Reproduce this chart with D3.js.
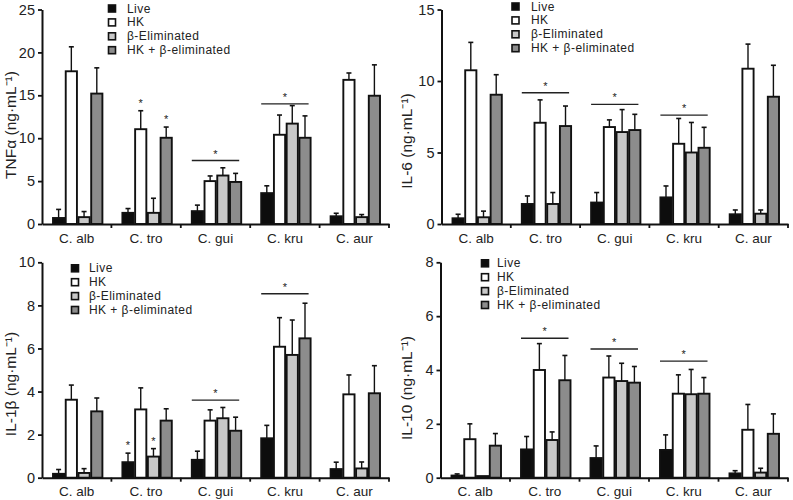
<!DOCTYPE html>
<html>
<head>
<meta charset="utf-8">
<script src="https://cdn.jsdelivr.net/npm/d3@7"></script>
<style>
  html, body { margin: 0; padding: 0; background: #fff; }
  svg { display: block; }
  text { font-family: "Liberation Sans", Arial, sans-serif; fill: #222; }
</style>
</head>
<body>
<svg id="chart" width="793" height="500"></svg>
<script>
// ---------- data ----------
const categories = ["C. alb", "C. tro", "C. gui", "C. kru", "C. aur"];
const seriesNames = ["Live", "HK", "β-Eliminated", "HK + β-eliminated"];

// TNFα (ng·mL⁻¹)
const tnfLive = [0.7, 1.3, 1.5, 3.6, 0.9];
const tnfLiveSd = [1.0, 0.5, 0.7, 0.85, 0.35];
const tnfHK = [17.8, 11.05, 5.0, 10.4, 16.8];
const tnfHKSd = [2.85, 2.15, 0.6, 2.3, 0.8];
const tnfBeta = [0.8, 1.3, 5.65, 11.7, 0.8];
const tnfBetaSd = [0.65, 1.7, 0.9, 2.1, 0.3];
const tnfHKBeta = [15.2, 10.05, 4.9, 10.05, 14.95];
const tnfHKBetaSd = [3.0, 1.25, 1.0, 2.55, 3.6];
const tnfTicks = [0, 5, 10, 15, 20, 25];
const tnfStarBars = [[1, 1], [1, 3]];
const tnfBracketCats = [2, 3];
const tnfBracketY = [7.4, 14.0];

// IL-6
const il6Live = [0.4, 1.4, 1.5, 1.86, 0.68];
const il6LiveSd = [0.28, 0.56, 0.7, 0.8, 0.3];
const il6HK = [10.75, 7.08, 6.78, 5.61, 10.86];
const il6HKSd = [1.95, 1.6, 0.5, 1.77, 1.72];
const il6Beta = [0.47, 1.4, 6.43, 5.0, 0.72];
const il6BetaSd = [0.43, 0.8, 1.57, 2.1, 0.26];
const il6HKBeta = [9.04, 6.85, 6.57, 5.33, 8.9];
const il6HKBetaSd = [1.4, 1.4, 1.1, 1.43, 2.2];
const il6Ticks = [0, 5, 10, 15];
const il6StarBars = [];
const il6BracketCats = [1, 2, 3];
const il6BracketY = [9.18, 8.36, 7.62];

// IL-1β
const il1Live = [0.18, 0.72, 0.83, 1.83, 0.4];
const il1LiveSd = [0.2, 0.42, 0.4, 0.6, 0.32];
const il1HK = [3.62, 3.17, 2.65, 6.08, 3.87];
const il1HKSd = [0.68, 1.0, 0.5, 1.35, 0.9];
const il1Beta = [0.22, 0.98, 2.76, 5.7, 0.43];
const il1BetaSd = [0.2, 0.37, 0.5, 1.62, 0.3];
const il1HKBeta = [3.08, 2.65, 2.18, 6.47, 3.92];
const il1HKBetaSd = [0.62, 0.55, 0.63, 1.63, 1.28];
const il1Ticks = [0, 2, 4, 6, 8, 10];
const il1StarBars = [[1, 0], [1, 2]];
const il1BracketCats = [2, 3];
const il1BracketY = [3.6, 8.54];

// IL-10
const il10Live = [0.08, 1.05, 0.73, 1.03, 0.16];
const il10LiveSd = [0.06, 0.48, 0.45, 0.56, 0.1];
const il10HK = [1.43, 4.0, 3.72, 3.12, 1.78];
const il10HKSd = [0.57, 0.98, 0.8, 0.7, 0.94];
const il10Beta = [0.06, 1.4, 3.59, 3.1, 0.19];
const il10BetaSd = [0.0, 0.3, 0.66, 0.92, 0.16];
const il10HKBeta = [1.19, 3.62, 3.53, 3.12, 1.63];
const il10HKBetaSd = [0.45, 0.92, 0.6, 0.6, 0.74];
const il10Ticks = [0, 2, 4, 6, 8];
const il10BracketCats = [1, 2, 3];
const il10BracketY = [5.18, 4.78, 4.33];
const il10StarBars = [];

// ---------- styles / layout ----------
const seriesFill = ["#0d0d0d", "#ffffff", "#c8c8c8", "#8c8c8c"];

const panels = [
  { title: "TNFα (ng·mL⁻¹)", ticks: tnfTicks,
    values: [tnfLive, tnfHK, tnfBeta, tnfHKBeta], sds: [tnfLiveSd, tnfHKSd, tnfBetaSd, tnfHKBetaSd],
    starBars: tnfStarBars, bracketCats: tnfBracketCats, bracketY: tnfBracketY,
    x0: 42, x1: 389, yTop: 9.5, yBot: 224, titleX: 10, titleY: 125,
    legSq: 108.5, legText: 127, legY: 8.5, legStep: 13.9 },
  { title: "IL-6 (ng·mL⁻¹)", ticks: il6Ticks,
    values: [il6Live, il6HK, il6Beta, il6HKBeta], sds: [il6LiveSd, il6HKSd, il6BetaSd, il6HKBetaSd],
    starBars: il6StarBars, bracketCats: il6BracketCats, bracketY: il6BracketY,
    x0: 441.5, x1: 788, yTop: 9.5, yBot: 224, titleX: 406, titleY: 141,
    legSq: 512, legText: 531, legY: 6.5, legStep: 13.9 },
  { title: "IL-1β (ng·mL⁻¹)", ticks: il1Ticks,
    values: [il1Live, il1HK, il1Beta, il1HKBeta], sds: [il1LiveSd, il1HKSd, il1BetaSd, il1HKBetaSd],
    starBars: il1StarBars, bracketCats: il1BracketCats, bracketY: il1BracketY,
    x0: 42, x1: 389, yTop: 262.3, yBot: 477.7, titleX: 10, titleY: 384,
    legSq: 71.5, legText: 89, legY: 268.3, legStep: 13.9 },
  { title: "IL-10 (ng·mL⁻¹)", ticks: il10Ticks,
    values: [il10Live, il10HK, il10Beta, il10HKBeta], sds: [il10LiveSd, il10HKSd, il10BetaSd, il10HKBetaSd],
    starBars: il10StarBars, bracketCats: il10BracketCats, bracketY: il10BracketY,
    x0: 440.5, x1: 788, yTop: 262.3, yBot: 477.7, titleX: 406, titleY: 388,
    legSq: 481.5, legText: 497, legY: 263.3, legStep: 13.9 }
];

const svg = d3.select("#chart");

panels.forEach(p => {
  const g = svg.append("g");
  const x = d3.scaleBand().domain(categories).range([p.x0, p.x1]).paddingInner(0).paddingOuter(0);
  const groupPad = 11;
  const xs = d3.scaleBand().domain(seriesNames)
    .range([groupPad, x.bandwidth() - groupPad + 2]).paddingInner(0.12);
  const y = d3.scaleLinear().domain([0, d3.max(p.ticks)]).range([p.yBot, p.yTop]);

  // bars
  seriesNames.forEach((s, si) => {
    const vals = p.values[si], sds = p.sds[si];
    const bg = g.append("g");
    categories.forEach((c, ci) => {
      const bx = x(c) + xs(s);
      const bw = xs.bandwidth();
      const v = vals[ci], sd = sds[ci];
      if (sd > 0) {
        bg.append("line")
          .attr("x1", bx + bw / 2).attr("x2", bx + bw / 2)
          .attr("y1", y(v)).attr("y2", y(v + sd))
          .attr("stroke", "#111").attr("stroke-width", 1.4);
        bg.append("line")
          .attr("x1", bx + bw / 2 - 2.5).attr("x2", bx + bw / 2 + 2.5)
          .attr("y1", y(v + sd)).attr("y2", y(v + sd))
          .attr("stroke", "#111").attr("stroke-width", 1.6);
      }
      bg.append("rect")
        .attr("x", bx).attr("y", y(v))
        .attr("width", bw).attr("height", y(0) - y(v))
        .attr("fill", seriesFill[si])
        .attr("stroke", "#111").attr("stroke-width", 1.9);
    });
  });

  // single stars
  p.starBars.forEach(([ci, si]) => {
    const c = categories[ci], s = seriesNames[si];
    const cx = x(c) + xs(s) + xs.bandwidth() / 2;
    const top = p.values[si][ci] + p.sds[si][ci];
    g.append("text").attr("x", cx).attr("y", y(top) - 4)
      .attr("text-anchor", "middle").attr("font-size", 11).text("*");
  });

  // bracket lines with stars
  p.bracketCats.forEach((ci, k) => {
    const c = categories[ci];
    const lx0 = x(c) + groupPad, lx1 = x(c) + x.bandwidth() - groupPad;
    const ly = y(p.bracketY[k]);
    g.append("line").attr("x1", lx0).attr("x2", lx1).attr("y1", ly).attr("y2", ly)
      .attr("stroke", "#222").attr("stroke-width", 1.3);
    g.append("text").attr("x", (lx0 + lx1) / 2).attr("y", ly - 3)
      .attr("text-anchor", "middle").attr("font-size", 11).text("*");
  });

  // y axis
  const yAxis = d3.axisLeft(y).tickValues(p.ticks).tickSize(4).tickPadding(3).tickSizeOuter(0);
  const ya = g.append("g").attr("transform", `translate(${p.x0},0)`).call(yAxis);
  ya.select(".domain").attr("stroke", "#111").attr("stroke-width", 2);
  ya.selectAll(".tick line").attr("stroke", "#111").attr("stroke-width", 1.8);
  ya.selectAll(".tick text").attr("font-size", 14.5).attr("fill", "#222")
    .attr("font-family", "Liberation Sans, Arial, sans-serif");

  // x axis
  const xAxis = d3.axisBottom(x).tickSize(0).tickPadding(9);
  const xa = g.append("g").attr("transform", `translate(0,${p.yBot})`).call(xAxis);
  xa.select(".domain").attr("stroke", "#111").attr("stroke-width", 2);
  xa.selectAll(".tick text").attr("font-size", 13.5).attr("fill", "#222")
    .attr("font-family", "Liberation Sans, Arial, sans-serif");
  const bounds = categories.map(c => x(c) + x.bandwidth());
  xa.selectAll(".bound").data(bounds).join("line").attr("class", "bound")
    .attr("x1", d => d).attr("x2", d => d).attr("y1", 0).attr("y2", 4)
    .attr("stroke", "#111").attr("stroke-width", 1.8);

  // y title
  g.append("text")
    .attr("transform", `translate(${p.titleX},${p.titleY}) rotate(-90)`)
    .attr("text-anchor", "middle").attr("dominant-baseline", "central")
    .attr("font-size", 15.5).text(p.title);

  // legend
  seriesNames.forEach((s, si) => {
    const ly = p.legY + si * p.legStep;
    g.append("rect").attr("x", p.legSq).attr("y", ly - 3.5).attr("width", 7).attr("height", 7)
      .attr("fill", seriesFill[si]).attr("stroke", "#111").attr("stroke-width", 1.6);
    g.append("text").attr("x", p.legText).attr("y", ly).attr("dominant-baseline", "central")
      .attr("font-size", 12).attr("letter-spacing", 0.45).text(s);
  });
});
</script>
</body>
</html>
